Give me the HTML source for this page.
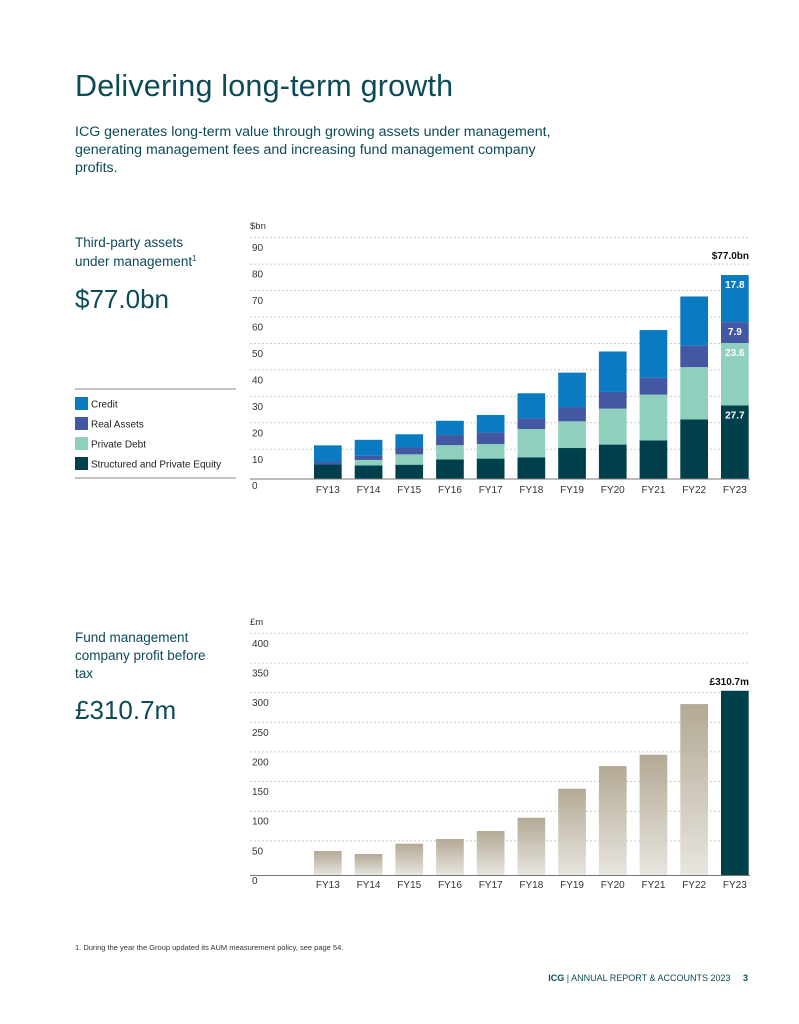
<!DOCTYPE html>
<html><head><meta charset="utf-8">
<style>
body{margin:0;background:#fff;}
svg{display:block;font-family:"Liberation Sans",sans-serif;}
</style></head>
<body>
<svg id="page" width="799" height="1024" viewBox="0 0 799 1024">
<text x="75" y="96" font-size="30.5" letter-spacing="0.2" fill="#0d4a57">Delivering long-term growth</text>
<g font-size="14.2" fill="#0d4a57">
<text x="75" y="136">ICG generates long-term value through growing assets under management,</text>
<text x="75" y="154">generating management fees and increasing fund management company</text>
<text x="75" y="172">profits.</text>
</g>
<g fill="#0d4a57">
<text x="75" y="247" font-size="13.5">Third-party assets</text>
<text x="75" y="266" font-size="13.5">under management<tspan font-size="8" dy="-5">1</tspan></text>
<text x="75" y="308" font-size="26">$77.0bn</text>
</g>
<g>
<line x1="75" y1="389" x2="236" y2="389" stroke="#888" stroke-width="1"/>
<line x1="75" y1="478" x2="236" y2="478" stroke="#888" stroke-width="1"/>
<rect x="75" y="397" width="13" height="13" fill="#0a7bc0"/>
<text x="91" y="407.5" font-size="10" fill="#222">Credit</text>
<rect x="75" y="417" width="13" height="13" fill="#4457a3"/>
<text x="91" y="427.5" font-size="10" fill="#222">Real Assets</text>
<rect x="75" y="437" width="13" height="13" fill="#8ecfbd"/>
<text x="91" y="447.5" font-size="10" fill="#222">Private Debt</text>
<rect x="75" y="457" width="13" height="13" fill="#00404d"/>
<text x="91" y="467.5" font-size="10" fill="#222">Structured and Private Equity</text>
</g>
<g id="chart1"></g>

<g fill="#0d4a57">
<text x="75" y="642" font-size="13.5">Fund management</text>
<text x="75" y="660" font-size="13.5">company profit before</text>
<text x="75" y="678" font-size="13.5">tax</text>
<text x="75" y="719" font-size="26">£310.7m</text>
</g>
<defs>
<linearGradient id="beige" x1="0" y1="0" x2="0" y2="1">
<stop offset="0" stop-color="#b3a994"/><stop offset="1" stop-color="#e8e5e0"/>
</linearGradient>
</defs>
<g id="chart2"></g>

<text x="75" y="950" font-size="7.5" fill="#333">1.  During the year the Group updated its AUM measurement policy, see page 54.</text>
<text x="748" y="981" font-size="9" fill="#0d4a57" text-anchor="end"><tspan font-weight="bold">ICG</tspan> | ANNUAL REPORT &amp; ACCOUNTS 2023 <tspan dx="10" font-weight="bold">3</tspan></text>
</svg>
<script>
const categories = ["FY13","FY14","FY15","FY16","FY17","FY18","FY19","FY20","FY21","FY22","FY23"];
const spe =    [5.4, 5.0, 5.3, 7.3, 7.6, 8.1, 11.6, 12.9, 14.5, 22.4, 27.7];
const pdebt =  [0.0, 2.1, 3.9, 5.4, 5.5, 10.7, 10.1, 13.6, 17.3, 19.8, 23.6];
const ra =     [0.9, 1.6, 2.6, 3.8, 4.4, 4.0, 5.4, 6.3, 6.4, 8.1, 7.9];
const credit = [6.3, 6.0, 5.0, 5.4, 6.6, 9.5, 13.0, 15.3, 18.0, 18.6, 17.8];
const aumTicks = [0,10,20,30,40,50,60,70,80,90];
const profit = [40.4, 35.4, 52.8, 60.7, 74.2, 96.6, 145.5, 183.7, 202.8, 288.2, 310.7];
const profitTicks = [0,50,100,150,200,250,300,350,400];

const NS="http://www.w3.org/2000/svg";
function mk(parent,tag,attrs,text){const e=document.createElementNS(NS,tag);for(const k in attrs)e.setAttribute(k,attrs[k]);if(text!==undefined)e.textContent=text;parent.appendChild(e);return e;}
const xBar = i => 314 + i*40.7;
const BW = 27.7;

// chart 1
const c1=document.getElementById('chart1');
const y1 = v => 478.7 - v*2.645;
mk(c1,'text',{x:250,y:229,'font-size':9.5,fill:'#333'},'$bn');
aumTicks.forEach(t=>{
  if(t>0){const g=mk(c1,'line',{x1:250,y1:y1(t)-3,x2:750,y2:y1(t)-3,stroke:'#ccc','stroke-dasharray':'2,2'});
  
  }
  const l=mk(c1,'text',{x:252,y:y1(t)+10.5,'font-size':10,fill:'#333'},String(t));
  
  
});
const series=[[spe,'#00404d','spe'],[pdebt,'#8ecfbd','private-debt'],[ra,'#4457a3','real-assets'],[credit,'#0a7bc0','credit']];
categories.forEach((c,i)=>{
  let base=0;
  series.forEach(([arr,col,nm])=>{
    const v=arr[i];
    if(v>0){
      const r=mk(c1,'rect',{x:xBar(i),y:y1(base+v),width:BW,height:y1(base)-y1(base+v),fill:col});
      
      
    }
    base+=v;
  });
  const l=mk(c1,'text',{x:xBar(i)+BW/2,y:493,'font-size':10,fill:'#333','text-anchor':'middle'},c);
  
  
});
mk(c1,'line',{x1:250,y1:479,x2:750,y2:479,stroke:'#777','stroke-width':1});
const li=categories.length-1;
let b=0;
series.forEach(([arr,col,nm])=>{
  const v=arr[li];
  const t=mk(c1,'text',{x:xBar(li)+BW/2,y:y1(b+v)+13,'font-size':10,'font-weight':'bold',fill:'#fff','text-anchor':'middle'},v.toFixed(1));
  
  
  b+=v;
});
const tot=spe[li]+pdebt[li]+ra[li]+credit[li];
const tl=mk(c1,'text',{x:749,y:y1(tot)-16,'font-size':10,'font-weight':'bold',fill:'#111','text-anchor':'end'},'$'+tot.toFixed(1)+'bn');



// chart 2
const c2=document.getElementById('chart2');
const y2 = v => 875 - v*0.593;
mk(c2,'text',{x:250,y:625,'font-size':9.5,fill:'#333'},'£m');
profitTicks.forEach(t=>{
  if(t>0){const g=mk(c2,'line',{x1:250,y1:y2(t)-4.5,x2:750,y2:y2(t)-4.5,stroke:'#ccc','stroke-dasharray':'2,2'});
  
  }
  const l=mk(c2,'text',{x:252,y:y2(t)+9,'font-size':10,fill:'#333'},String(t));
  
  
});
categories.forEach((c,i)=>{
  const last=i===categories.length-1;
  const r=mk(c2,'rect',{x:xBar(i),y:y2(profit[i]),width:BW,height:875-y2(profit[i]),fill:last?'#00404d':'url(#beige)'});
  
  
  const l=mk(c2,'text',{x:xBar(i)+BW/2,y:888,'font-size':10,fill:'#333','text-anchor':'middle'},c);
  
  
});
mk(c2,'line',{x1:250,y1:875.5,x2:750,y2:875.5,stroke:'#777','stroke-width':1});
const pl=mk(c2,'text',{x:749,y:y2(profit[li])-6,'font-size':10,'font-weight':'bold',fill:'#111','text-anchor':'end'},'£'+profit[li].toFixed(1)+'m');


</script>
</body></html>
